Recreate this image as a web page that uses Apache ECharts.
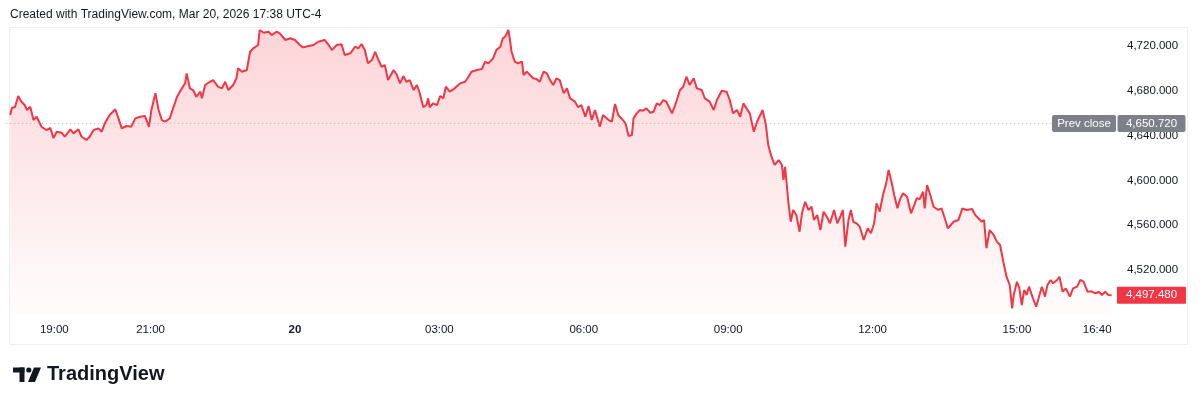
<!DOCTYPE html>
<html>
<head>
<meta charset="utf-8">
<script src="https://cdn.jsdelivr.net/npm/echarts@6/dist/echarts.min.js"></script>
<style>
html,body{margin:0;padding:0;background:#ffffff;}
#chart{width:1200px;height:401px;}
</style>
</head>
<body>
<div id="chart"></div>
<script>
const titleText = "Created with TradingView.com, Mar 20, 2026 17:38 UTC-4";
const brandText = "TradingView";
const prevClose = 4650.72;
const lastPrice = 4497.48;

const times = [
"18:05","18:07","18:11","18:15","18:19","18:23","18:26","18:30","18:34","18:38",
"18:44","18:50","18:55","18:59","19:03","19:09","19:13","19:20","19:24","19:30",
"19:34","19:40","19:44","19:49","19:55","19:59","20:03","20:09","20:16","20:20",
"20:24","20:30","20:36","20:41","20:47","20:53","20:58","21:01","21:06","21:10",
"21:14","21:18","21:24","21:28","21:33","21:39","21:43","21:45","21:49","21:53",
"21:57","22:02","22:04","22:08","22:14","22:18","22:24","22:29","22:33","22:37",
"22:43","22:47","22:49","22:54","23:00","23:04","23:08","23:14","23:16","23:21",
"23:27","23:31","23:37","23:41","23:48","23:54","00:00","00:06","00:10","00:17",
"00:23","00:29","00:37","00:42","00:46","00:52","00:58","01:02","01:09","01:15",
"01:19","01:23","01:27","01:31","01:36","01:40","01:44","01:48","01:52","01:56",
"02:03","02:07","02:11","02:15","02:19","02:23","02:28","02:32","02:35","02:40",
"02:44","02:46","02:48","02:52","02:57","03:01","03:05","03:08","03:13","03:19",
"03:26","03:32","03:36","03:40","03:47","03:53","03:57","04:01","04:07","04:11",
"04:16","04:19","04:22","04:24","04:26","04:28","04:30","04:34","04:38","04:43",
"04:45","04:49","04:53","04:57","05:01","05:05","05:10","05:14","05:18","05:22",
"05:26","05:30","05:35","05:39","05:43","05:49","05:53","05:57","06:02","06:06",
"06:10","06:14","06:20","06:24","06:31","06:35","06:39","06:43","06:47","06:52",
"06:56","07:00","07:02","07:06","07:10","07:14","07:18","07:23","07:27","07:31",
"07:35","07:39","07:43","07:50","07:54","08:00","08:04","08:08","08:12","08:17",
"08:21","08:27","08:31","08:37","08:42","08:46","08:52","08:58","09:02","09:06",
"09:11","09:15","09:19","09:27","09:32","09:36","09:43","09:47","09:50","09:54",
"09:58","10:03","10:07","10:09","10:11","10:15","10:18","10:21","10:25","10:29",
"10:32","10:36","10:40","10:44","10:47","10:51","10:55","10:59","11:03","11:07",
"11:12","11:16","11:19","11:23","11:26","11:30","11:33","11:36","11:40","11:44",
"11:49","11:54","11:58","12:02","12:05","12:09","12:13","12:17","12:20","12:24",
"12:27","12:31","12:34","12:38","12:43","12:48","12:52","12:55","12:59","13:03",
"13:05","13:08","13:12","13:16","13:22","13:26","13:30","13:34","13:41","13:47",
"13:52","13:57","14:04","14:08","14:12","14:16","14:19","14:22","14:26","14:31",
"14:35","14:39","14:43","14:47","14:51","14:54","14:56","15:00","15:03","15:06",
"15:09","15:12","15:15","15:20","15:24","15:27","15:31","15:35","15:38","15:42",
"15:45","15:50","15:53","15:57","16:01","16:06","16:10","16:15","16:19","16:23",
"16:28","16:33","16:38","16:42","16:46","16:50","16:54","16:58"
];

const prices = [
4658.4,4664.6,4665.5,4675.4,4670.3,4667.3,4662.9,4665.8,4653.9,4656.9,
4647.9,4645.0,4646.8,4637.8,4643.5,4642.6,4639.0,4645.6,4642.0,4645.6,
4639.0,4636.1,4639.0,4645.0,4646.5,4643.5,4651.0,4658.4,4663.5,4655.4,
4646.5,4648.6,4648.0,4655.4,4656.9,4657.5,4647.9,4662.9,4677.8,4662.9,
4653.9,4652.4,4655.4,4664.4,4674.7,4682.2,4686.7,4695.6,4682.2,4680.7,
4674.7,4679.2,4673.3,4685.2,4688.1,4689.6,4683.7,4682.2,4688.1,4680.7,
4685.2,4691.2,4700.1,4697.1,4698.6,4714.9,4717.9,4720.9,4734.3,4731.9,
4732.8,4729.8,4732.8,4731.3,4725.4,4726.9,4725.4,4720.9,4718.8,4720.0,
4720.9,4723.8,4725.4,4720.9,4716.4,4720.9,4721.5,4712.0,4713.5,4719.4,
4717.9,4721.8,4716.4,4704.6,4707.5,4714.9,4707.5,4701.5,4703.0,4689.6,
4698.6,4694.1,4686.7,4693.2,4688.1,4689.6,4680.7,4685.2,4679.2,4665.3,
4667.3,4673.3,4665.3,4668.8,4667.3,4675.4,4673.3,4683.7,4679.2,4682.2,
4686.7,4688.1,4692.1,4697.1,4698.6,4699.5,4706.0,4704.6,4709.0,4716.4,
4719.4,4726.9,4728.3,4731.3,4734.3,4725.4,4714.9,4706.0,4704.6,4706.0,
4694.1,4697.1,4694.1,4691.2,4690.5,4688.1,4697.1,4695.6,4689.6,4685.2,
4691.2,4689.6,4677.8,4682.2,4673.3,4670.3,4665.3,4667.3,4656.9,4666.4,
4653.9,4662.9,4647.9,4658.4,4653.9,4652.4,4668.2,4658.4,4655.4,4651.0,
4639.6,4640.5,4655.4,4659.9,4662.9,4662.2,4664.4,4660.4,4661.3,4668.8,
4667.3,4671.8,4670.3,4659.9,4667.3,4680.7,4683.7,4692.6,4685.2,4691.2,
4682.2,4680.7,4673.3,4670.3,4662.9,4671.8,4680.1,4679.2,4671.8,4659.9,
4662.9,4656.9,4668.8,4659.9,4643.5,4652.4,4662.9,4649.5,4631.6,4621.2,
4613.8,4618.2,4613.8,4600.4,4612.2,4580.9,4563.1,4573.6,4569.1,4554.2,
4570.6,4580.9,4573.6,4576.5,4564.6,4569.1,4555.7,4572.1,4567.6,4561.7,
4573.6,4561.7,4566.2,4573.6,4540.8,4564.6,4573.6,4563.1,4561.7,4558.7,
4546.8,4557.2,4552.8,4561.7,4579.6,4572.1,4587.0,4597.4,4609.3,4597.4,
4587.0,4575.1,4582.5,4588.5,4585.4,4570.6,4578.0,4584.0,4583.5,4589.9,
4575.1,4595.9,4587.0,4576.5,4573.6,4575.1,4566.2,4557.2,4563.1,4564.6,
4575.1,4573.6,4574.5,4569.1,4566.2,4563.1,4564.6,4539.4,4555.7,4551.3,
4545.3,4542.3,4527.4,4514.0,4506.6,4485.8,4497.7,4509.5,4503.6,4488.7,
4502.1,4497.7,4505.1,4494.7,4487.2,4494.7,4505.1,4496.2,4506.6,4511.1,
4508.1,4511.1,4514.0,4500.6,4503.6,4496.2,4503.6,4505.1,4511.1,4509.6,
4500.6,4501.0,4499.2,4500.6,4497.7,4500.6,4497.7,4497.48
];

const xTickTimes  = ["19:00","21:00","00:00","03:00","06:00","09:00","12:00","15:00","16:40"];
const xTickLabels = ["19:00","21:00","20","03:00","06:00","09:00","12:00","15:00","16:40"];
const yTicks = [4520, 4560, 4600, 4640, 4680, 4720];

const FONT = "'Liberation Sans', Arial, sans-serif";
const TEXT = '#131722';

function toMin(s) {
  const p = s.split(':').map(Number);
  return ((p[0] * 60 + p[1]) - 1080 + 1440) % 1440;
}
function fmt(v) {
  return v.toLocaleString('en-US', {minimumFractionDigits: 3, maximumFractionDigits: 3});
}

const tickMap = {};
xTickTimes.forEach((t, i) => { tickMap[toMin(t)] = xTickLabels[i]; });

const seriesData = times.map((t, i) => [toMin(t), prices[i]]);

const chart = echarts.init(document.getElementById('chart'), null, {renderer: 'canvas'});

chart.setOption({
  animation: false,
  backgroundColor: '#ffffff',
  grid: {left: 6.2, right: 86, top: 27, height: 287.8, containLabel: false},
  xAxis: {
    type: 'value', min: 0, max: 1381, interval: 20,
    axisLine: {show: false}, axisTick: {show: false}, splitLine: {show: false},
    axisLabel: {
      margin: 9, color: TEXT, fontSize: 11.5, fontFamily: FONT,
      showMinLabel: true, showMaxLabel: false,
      formatter: function (v) {
        const l = tickMap[Math.round(v)];
        if (!l) return '';
        return l === '20' ? '{b|20}' : l;
      },
      rich: {b: {fontWeight: 'bold', fontSize: 11.5, fontFamily: FONT, color: TEXT}}
    }
  },
  yAxis: {
    type: 'value', position: 'right', min: 4480, max: 4737, interval: 40,
    axisLine: {show: false}, axisTick: {show: false}, splitLine: {show: false},
    axisLabel: {
      margin: 13, align: 'left', color: TEXT, fontSize: 11.5, fontFamily: FONT,
      showMinLabel: false, showMaxLabel: false,
      formatter: function (v) { return yTicks.indexOf(v) >= 0 ? fmt(v) : ''; }
    }
  },
  series: [{
    type: 'line',
    data: seriesData,
    symbol: 'none',
    silent: true,
    lineStyle: {color: '#f23645', width: 2},
    areaStyle: {
      color: new echarts.graphic.LinearGradient(0, 0, 0, 1, [
        {offset: 0, color: 'rgba(242,54,69,0.30)'},
        {offset: 1, color: 'rgba(242,54,69,0.02)'}
      ])
    },
    markLine: {
      silent: true, symbol: 'none', label: {show: false},
      lineStyle: {color: '#b2b5be', type: [1, 3], width: 1},
      data: [{yAxis: prevClose}]
    },
    z: 3
  }]
});

const yPC = chart.convertToPixel({yAxisIndex: 0}, prevClose);
const yLast = chart.convertToPixel({yAxisIndex: 0}, lastPrice);
const BH = 17;

chart.setOption({
  graphic: [
    {type: 'rect', silent: true, z: 0,
     shape: {x: 9.5, y: 27.5, width: 1178, height: 317},
     style: {fill: 'none', stroke: '#eceef2', lineWidth: 1}},
    {type: 'text', silent: true, z: 10,
     style: {x: 10, y: 15, text: titleText, fill: TEXT, font: "12px " + FONT, verticalAlign: 'middle'}},
    // prev close label
    {type: 'rect', silent: true, z: 10,
     shape: {x: 1052, y: yPC - BH / 2, width: 64, height: BH, r: 2},
     style: {fill: '#7e8089'}},
    {type: 'text', silent: true, z: 11,
     style: {x: 1084, y: yPC, text: 'Prev close', fill: '#ffffff', font: "11.5px " + FONT, align: 'center', verticalAlign: 'middle'}},
    {type: 'rect', silent: true, z: 10,
     shape: {x: 1117.5, y: yPC - BH / 2, width: 68, height: BH, r: 2},
     style: {fill: '#7e8089'}},
    {type: 'text', silent: true, z: 11,
     style: {x: 1151.5, y: yPC, text: fmt(prevClose), fill: '#ffffff', font: "11.5px " + FONT, align: 'center', verticalAlign: 'middle'}},
    // last price label
    {type: 'rect', silent: true, z: 10,
     shape: {x: 1117, y: yLast - BH / 2, width: 69, height: BH, r: 1},
     style: {fill: '#f23645'}},
    {type: 'text', silent: true, z: 11,
     style: {x: 1151.5, y: yLast, text: fmt(lastPrice), fill: '#ffffff', font: "11.5px " + FONT, align: 'center', verticalAlign: 'middle'}},
    // brand logo
    {type: 'rect', silent: true, z: 10, shape: {x: 13, y: 367.5, width: 11.5, height: 5}, style: {fill: TEXT}},
    {type: 'rect', silent: true, z: 10, shape: {x: 19.5, y: 367.5, width: 5, height: 14.5}, style: {fill: TEXT}},
    {type: 'circle', silent: true, z: 10, shape: {cx: 28.8, cy: 370, r: 2.6}, style: {fill: TEXT}},
    {type: 'polygon', silent: true, z: 10, shape: {points: [[34, 367.5], [41, 367.5], [35, 382], [28, 382]]}, style: {fill: TEXT}},
    {type: 'text', silent: true, z: 10,
     style: {x: 47, y: 374.5, text: brandText, fill: TEXT, font: "bold 20px " + FONT, verticalAlign: 'middle'}}
  ]
});
</script>
</body>
</html>
